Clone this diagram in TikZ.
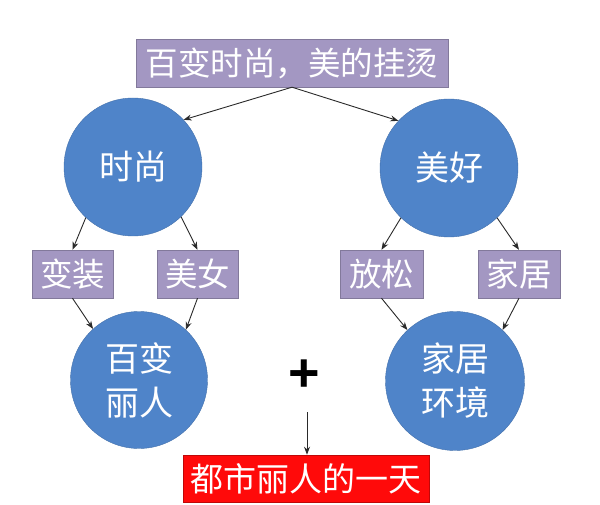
\documentclass[tikz,border=0pt]{standalone}
\usepackage{fontspec}
\setmainfont{Noto Sans CJK SC}
\newfontfamily\plusfont{Liberation Sans}
\usetikzlibrary{arrows.meta,shadows}
\definecolor{cblue}{HTML}{4F84C9}
\definecolor{cpurple}{HTML}{A397C2}
\definecolor{cred}{HTML}{FF0A0A}
\definecolor{carrow}{HTML}{2A2A2A}
\tikzset{
  circ/.style={circle,fill=cblue,draw=cblue!85!black,line width=0.4pt,minimum size=138pt,inner sep=0pt,text=white,font=\fontsize{34}{44}\selectfont,align=center},
  pbox/.style={rectangle,fill=cpurple,draw=cpurple!80!black,line width=0.4pt,inner sep=0pt,text=white,font=\fontsize{32.5}{36}\selectfont,drop shadow={shadow xshift=1pt,shadow yshift=-1pt,fill=black!25,opacity=0.6}},
  arr/.style={draw=carrow,line width=0.9pt,-{Stealth[length=8pt,width=6pt]}}
}
\begin{document}
\begin{tikzpicture}[x=1pt,y=-1pt]
\useasboundingbox[fill=white] (0,0) rectangle (600,505);
\node[pbox,minimum width=312pt,minimum height=48pt] (top) at (292,63) {百变时尚，美的挂烫};
\node[circ] (c1) at (133,167) {时尚};
\node[circ] (c2) at (449,168) {美好};
\node[pbox,minimum width=81pt,minimum height=48pt] (b1) at (72.5,274) {变装};
\node[pbox,minimum width=81pt,minimum height=48pt] (b2) at (197.5,274) {美女};
\node[pbox,minimum width=83pt,minimum height=48pt] (b3) at (381.5,274) {放松};
\node[pbox,minimum width=82pt,minimum height=48pt] (b4) at (519,274) {家居};
\node[circ,minimum size=137pt] (c3) at (139,380) {百变\\丽人};
\node[circ,minimum size=139pt] (c4) at (455,381) {家居\\环境};
\node[font=\plusfont\bfseries\fontsize{54}{54}\selectfont,inner sep=0pt] (plus) at (304,376) {+};
\coordinate (ps) at (307,412);
\node[rectangle,fill=cred,draw=cred!75!black,line width=0.6pt,inner sep=0pt,minimum width=246pt,minimum height=47pt,text=white,font=\fontsize{33}{36}\selectfont] (red) at (306,478.5) {都市丽人的一天};
\draw[arr] (top.south) -- (c1.43);
\draw[arr] (top.south) -- (c2.137);
\draw[arr] (c1.227) -- (b1.north);
\draw[arr] (c1.314) -- (b2.north);
\draw[arr] (c2.226) -- (b3.north);
\draw[arr] (c2.314) -- (b4.north);
\draw[arr] (b1.south) -- (c3.132);
\draw[arr] (b2.south) -- (c3.47);
\draw[arr] (b3.south) -- (c4.133);
\draw[arr] (b4.south) -- (c4.47);
\draw[arr] (ps) -- (red.north -| ps);
\end{tikzpicture}
\end{document}
